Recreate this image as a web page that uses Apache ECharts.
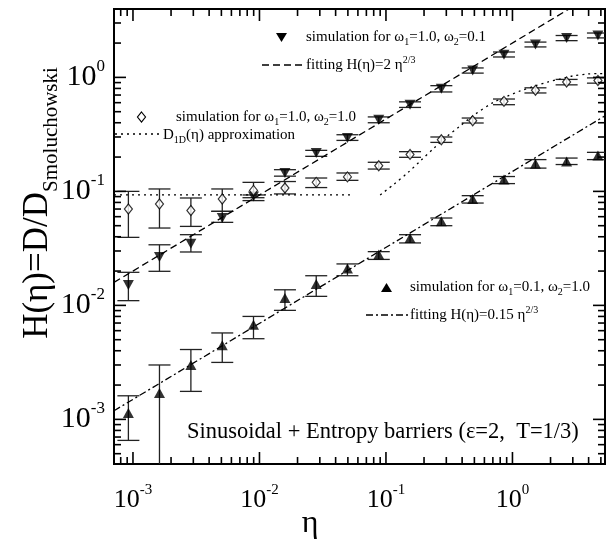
<!DOCTYPE html>
<html>
<head>
<meta charset="utf-8">
<script src="https://cdn.jsdelivr.net/npm/echarts@6/dist/echarts.min.js"></script>
<style>
  html, body { margin: 0; padding: 0; background: #fff; }
  #main { width: 609px; height: 543px; }
</style>
</head>
<body>
<div id="main"></div>
<script>
// eta of the simulation points
var eta = [0.00092, 0.00162, 0.00287, 0.00508, 0.00897, 0.0159, 0.0281, 0.0496,
           0.0877, 0.155, 0.274, 0.485, 0.857, 1.52, 2.68, 4.74];

// simulation for w1=1.0, w2=0.1 (filled down triangles)
var simA     = [0.0151, 0.0266, 0.0348, 0.0584, 0.090, 0.145, 0.217, 0.294, 0.426, 0.576, 0.796, 1.15, 1.58, 1.94, 2.22, 2.33];
var simALow  = [0.0110, 0.0199, 0.0294, 0.0535, 0.083, 0.136, 0.203, 0.280, 0.400, 0.545, 0.745, 1.09, 1.51, 1.85, 2.10, 2.22];
var simAHigh = [0.0195, 0.0340, 0.0417, 0.0668, 0.093, 0.155, 0.229, 0.314, 0.450, 0.610, 0.846, 1.21, 1.67, 2.04, 2.33, 2.45];

// simulation for w1=1.0, w2=1.0 (open diamonds)
var simB     = [0.070, 0.0775, 0.068, 0.0857, 0.102, 0.107, 0.120, 0.134, 0.168, 0.211, 0.284, 0.417, 0.616, 0.770, 0.910, 0.940];
var simBLow  = [0.0395, 0.0477, 0.0493, 0.0668, 0.088, 0.095, 0.108, 0.125, 0.157, 0.199, 0.269, 0.398, 0.576, 0.730, 0.860, 0.890];
var simBHigh = [0.100, 0.105, 0.0875, 0.105, 0.120, 0.122, 0.131, 0.145, 0.180, 0.223, 0.300, 0.440, 0.646, 0.810, 0.960, 0.990];

// simulation for w1=0.1, w2=1.0 (filled up triangles)
var simC     = [0.00114, 0.0017, 0.0030, 0.00446, 0.00677, 0.0116, 0.0154, 0.0211, 0.0279, 0.039, 0.0546, 0.0857, 0.127, 0.175, 0.183, 0.206];
var simCLow  = [0.000654, 0.0003, 0.00176, 0.00316, 0.0051, 0.00904, 0.0120, 0.0182, 0.0253, 0.0353, 0.050, 0.079, 0.117, 0.160, 0.172, 0.190];
var simCHigh = [0.00161, 0.0030, 0.0041, 0.00573, 0.0080, 0.0137, 0.0182, 0.0231, 0.0296, 0.0417, 0.0584, 0.0917, 0.135, 0.190, 0.196, 0.220];

// fitted lines, end points
var fitA = [[0.000708, 0.0159], [2.8, 3.98]];
var fitC = [[0.000708, 0.00119], [5.39, 0.46]];

// D_1D approximation (dotted)
var d1dFlat = [[0.000708, 0.093], [0.052, 0.093]];
var d1dX = [0.09, 0.115, 0.15, 0.19, 0.24, 0.30, 0.38, 0.50, 0.70, 0.90, 1.15, 1.50, 1.90, 2.40, 3.00, 3.90, 4.90, 5.39];
var d1dY = [0.093, 0.115, 0.147, 0.188, 0.24, 0.30, 0.37, 0.47, 0.60, 0.68, 0.76, 0.84, 0.91, 0.97, 1.03, 1.07, 1.08, 1.08];

// axes
var xRange = [7.08e-4, 5.39];
var yRange = [4.06e-4, 3.98];
var xMajor = [0.001, 0.01, 0.1, 1];
var yMajor = [0.001, 0.01, 0.1, 1];

var serif = '"Liberation Serif", "DejaVu Serif", serif';

function minorTicks(range) {
  var out = [];
  for (var n = -4; n <= 1; n++) {
    for (var k = 2; k <= 9; k++) {
      var v = k * Math.pow(10, n);
      if (v > range[0] && v < range[1]) out.push(v);
    }
  }
  return out;
}

function zipXY(xs, ys) {
  return xs.map(function (x, i) { return [x, ys[i]]; });
}

function expLabel(v) {
  return '{b|10}{s|' + Math.round(Math.log10(v)) + '}';
}
function labelRich(big, small) {
  return {
    b: { fontSize: big, fontFamily: serif, lineHeight: big + 4, verticalAlign: 'bottom', fill: '#000' },
    s: { fontSize: small, fontFamily: serif, lineHeight: small + 4, verticalAlign: 'top', fill: '#000' }
  };
}
var xLabelRich = labelRich(26, 15);
var yLabelRich = labelRich(30, 17);

var xTickData = xMajor.map(function (v) { return [v, yRange[0], 1]; })
  .concat(minorTicks(xRange).map(function (v) { return [v, yRange[0], 0]; }));
var yTickData = yMajor.map(function (v) { return [xRange[0], v, 1]; })
  .concat(minorTicks(yRange).map(function (v) { return [xRange[0], v, 0]; }));

function xTickItem(params, api) {
  var cs = params.coordSys;
  var v = api.value(0), major = api.value(2) === 1;
  var px = api.coord([v, yRange[0]])[0];
  var len = major ? 12 : 7;
  var bottom = cs.y + cs.height, top = cs.y;
  var st = { stroke: '#000', lineWidth: 1.6 };
  var children = [
    { type: 'line', shape: { x1: px, y1: bottom, x2: px, y2: bottom - len }, style: st },
    { type: 'line', shape: { x1: px, y1: top, x2: px, y2: top + len }, style: st }
  ];
  if (major) {
    children.push({ type: 'text', x: px, y: bottom + 34,
      style: { text: expLabel(v), rich: xLabelRich, align: 'center', verticalAlign: 'middle', fill: '#000' } });
  }
  return { type: 'group', children: children };
}

function yTickItem(params, api) {
  var cs = params.coordSys;
  var v = api.value(1), major = api.value(2) === 1;
  var py = api.coord([xRange[0], v])[1];
  var len = major ? 12 : 7;
  var left = cs.x, right = cs.x + cs.width;
  var st = { stroke: '#000', lineWidth: 1.6 };
  var children = [
    { type: 'line', shape: { x1: left, y1: py, x2: left + len, y2: py }, style: st },
    { type: 'line', shape: { x1: right, y1: py, x2: right - len, y2: py }, style: st }
  ];
  if (major) {
    children.push({ type: 'text', x: left - 9, y: py - 2,
      style: { text: expLabel(v), rich: yLabelRich, align: 'right', verticalAlign: 'middle', fill: '#000' } });
  }
  return { type: 'group', children: children };
}

function errData(lo, hi) {
  return eta.map(function (x, i) { return [x, lo[i], hi[i]]; });
}

function errItem(params, api) {
  var x = api.value(0);
  var pLo = api.coord([x, api.value(1)]);
  var pHi = api.coord([x, api.value(2)]);
  var w = 11;
  var st = { stroke: '#222', lineWidth: 1.3 };
  return {
    type: 'group',
    children: [
      { type: 'line', shape: { x1: pLo[0], y1: pLo[1], x2: pHi[0], y2: pHi[1] }, style: st },
      { type: 'line', shape: { x1: pLo[0] - w, y1: pLo[1], x2: pLo[0] + w, y2: pLo[1] }, style: st },
      { type: 'line', shape: { x1: pHi[0] - w, y1: pHi[1], x2: pHi[0] + w, y2: pHi[1] }, style: st }
    ]
  };
}

var legendRich = {
  t: { fontSize: 15, fontFamily: serif, lineHeight: 20, verticalAlign: 'middle', fill: '#000' },
  sub: { fontSize: 10, fontFamily: serif, lineHeight: 12, verticalAlign: 'bottom', fill: '#000' },
  sup: { fontSize: 10, fontFamily: serif, lineHeight: 12, verticalAlign: 'top', fill: '#000' }
};

function legendText(x, y, text) {
  return { type: 'text', x: x, y: y,
    style: { text: text, rich: legendRich, align: 'left', verticalAlign: 'middle', fill: '#000' } };
}

var chart = echarts.init(document.getElementById('main'), null, { renderer: 'canvas' });

var option = {
  backgroundColor: '#fff',
  animation: false,
  grid: { left: 114, right: 4, top: 9, bottom: 79, show: true, borderColor: '#000', borderWidth: 2, backgroundColor: 'transparent' },
  xAxis: {
    type: 'log', logBase: 10, min: xRange[0], max: xRange[1],
    axisLine: { show: false }, axisTick: { show: false }, axisLabel: { show: false }, splitLine: { show: false }
  },
  yAxis: {
    type: 'log', logBase: 10, min: yRange[0], max: yRange[1],
    axisLine: { show: false }, axisTick: { show: false }, axisLabel: { show: false }, splitLine: { show: false }
  },
  series: [
    { type: 'custom', name: 'xticks', renderItem: xTickItem, data: xTickData, clip: false, silent: true, z: 5 },
    { type: 'custom', name: 'yticks', renderItem: yTickItem, data: yTickData, clip: false, silent: true, z: 5 },
    { type: 'line', name: 'fitA', data: fitA, showSymbol: false, clip: true,
      lineStyle: { color: '#000', width: 1.3, type: [7, 4] } },
    { type: 'line', name: 'fitC', data: fitC, showSymbol: false, clip: true,
      lineStyle: { color: '#000', width: 1.3, type: [7, 3, 2, 3] } },
    { type: 'line', name: 'd1dFlat', data: d1dFlat, showSymbol: false, clip: true,
      lineStyle: { color: '#000', width: 1.3, type: [2, 4] } },
    { type: 'line', name: 'd1dCurve', data: zipXY(d1dX, d1dY), showSymbol: false, clip: true, smooth: 0.3,
      lineStyle: { color: '#000', width: 1.3, type: [2, 4] } },
    { type: 'custom', name: 'errA', renderItem: errItem, data: errData(simALow, simAHigh), clip: true, z: 3 },
    { type: 'custom', name: 'errB', renderItem: errItem, data: errData(simBLow, simBHigh), clip: true, z: 3 },
    { type: 'custom', name: 'errC', renderItem: errItem, data: errData(simCLow, simCHigh), clip: true, z: 3 },
    { type: 'scatter', name: 'simA', data: zipXY(eta, simA), symbol: 'triangle', symbolRotate: 180, symbolSize: [11, 10],
      itemStyle: { color: '#000' }, z: 4 },
    { type: 'scatter', name: 'simB', data: zipXY(eta, simB), symbol: 'diamond', symbolSize: [8, 10],
      itemStyle: { color: '#fff', borderColor: '#000', borderWidth: 1.2 }, z: 4 },
    { type: 'scatter', name: 'simC', data: zipXY(eta, simC), symbol: 'triangle', symbolSize: [11, 10],
      itemStyle: { color: '#000' }, z: 4 }
  ],
  graphic: [
    // legend: w1=1.0, w2=0.1
    { type: 'polygon', shape: { points: [[276, 33], [287, 33], [281.5, 42]] }, style: { fill: '#000' } },
    legendText(306, 37, '{t|simulation for ω}{sub|1}{t|=1.0, ω}{sub|2}{t|=0.1}'),
    { type: 'line', shape: { x1: 262, y1: 65, x2: 302, y2: 65 }, style: { stroke: '#000', lineWidth: 1.3, lineDash: [7, 4] } },
    legendText(306, 65, '{t|fitting H(η)=2 η}{sup|2/3}'),
    // legend: w1=1.0, w2=1.0
    { type: 'polygon', shape: { points: [[141.5, 112], [145.5, 117], [141.5, 122], [137.5, 117]] }, style: { fill: '#fff', stroke: '#000', lineWidth: 1.2 } },
    legendText(176, 117, '{t|simulation for ω}{sub|1}{t|=1.0, ω}{sub|2}{t|=1.0}'),
    { type: 'line', shape: { x1: 115, y1: 134, x2: 160, y2: 134 }, style: { stroke: '#000', lineWidth: 1.3, lineDash: [2, 4] } },
    legendText(163, 135, '{t|D}{sub|1D}{t|(η) approximation}'),
    // legend: w1=0.1, w2=1.0
    { type: 'polygon', shape: { points: [[381, 292], [392, 292], [386.5, 283]] }, style: { fill: '#000' } },
    legendText(410, 287, '{t|simulation for ω}{sub|1}{t|=0.1, ω}{sub|2}{t|=1.0}'),
    { type: 'line', shape: { x1: 366, y1: 315, x2: 408, y2: 315 }, style: { stroke: '#000', lineWidth: 1.3, lineDash: [7, 3, 2, 3] } },
    legendText(410, 315, '{t|fitting H(η)=0.15 η}{sup|2/3}'),
    // annotation
    { type: 'text', x: 187, y: 432,
      style: { text: 'Sinusoidal + Entropy barriers (ε=2,  T=1/3)', font: '22.5px ' + serif, fill: '#000', align: 'left', verticalAlign: 'middle' } },
    // axis titles
    { type: 'text', x: 310, y: 524,
      style: { text: 'η', font: '32px ' + serif, fill: '#000', align: 'center', verticalAlign: 'middle' } },
    { type: 'text', x: 41, y: 203, rotation: Math.PI / 2,
      style: {
        text: '{m|H(η)=D/D}{s|Smoluchowski}', align: 'center', verticalAlign: 'middle',
        rich: {
          m: { fontSize: 35, fontFamily: serif, lineHeight: 42, verticalAlign: 'top', fill: '#000' },
          s: { fontSize: 21, fontFamily: serif, lineHeight: 26, verticalAlign: 'bottom', fill: '#000' }
        }
      } }
  ]
};

chart.setOption(option);
</script>
</body>
</html>
